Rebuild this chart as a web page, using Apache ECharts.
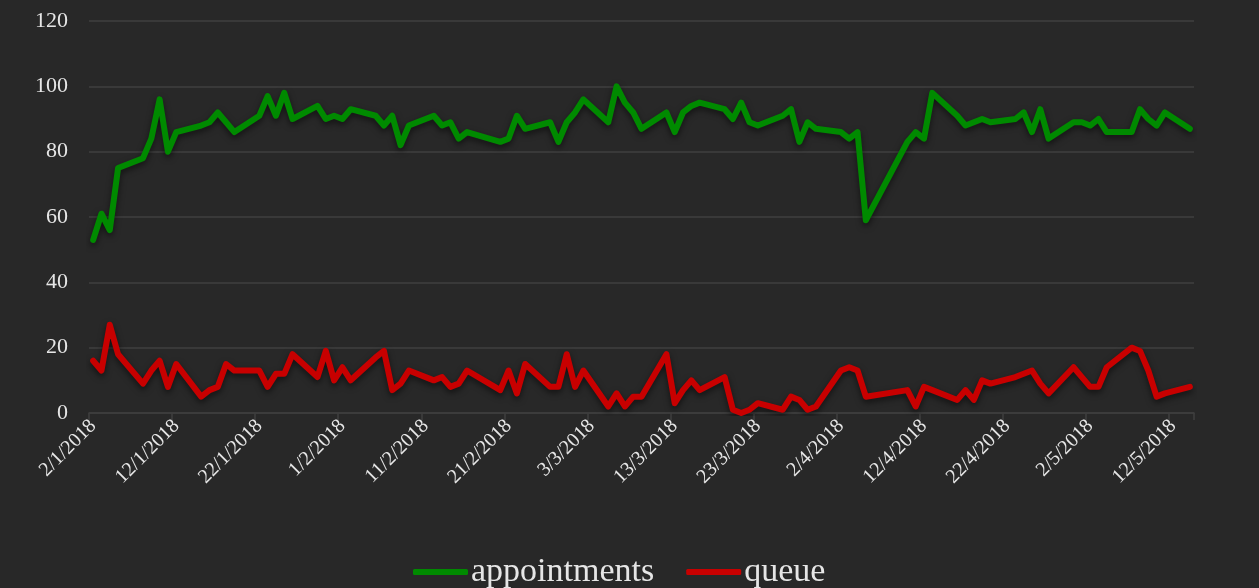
<!DOCTYPE html>
<html>
<head>
<meta charset="utf-8">
<script src="https://cdn.jsdelivr.net/npm/echarts@6/dist/echarts.min.js"></script>
<style>
  html, body { margin: 0; padding: 0; background: #282828; }
  #chart { width: 1259px; height: 588px; }
</style>
</head>
<body>
<div id="chart"></div>
<script>
// Calendar days shown on the axis (2 Jan – 14 May 2018)
const categories = [
  '2/1/2018','3/1/2018','4/1/2018','5/1/2018','6/1/2018','7/1/2018','8/1/2018','9/1/2018','10/1/2018','11/1/2018',
  '12/1/2018','13/1/2018','14/1/2018','15/1/2018','16/1/2018','17/1/2018','18/1/2018','19/1/2018','20/1/2018','21/1/2018',
  '22/1/2018','23/1/2018','24/1/2018','25/1/2018','26/1/2018','27/1/2018','28/1/2018','29/1/2018','30/1/2018','31/1/2018',
  '1/2/2018','2/2/2018','3/2/2018','4/2/2018','5/2/2018','6/2/2018','7/2/2018','8/2/2018','9/2/2018','10/2/2018',
  '11/2/2018','12/2/2018','13/2/2018','14/2/2018','15/2/2018','16/2/2018','17/2/2018','18/2/2018','19/2/2018','20/2/2018',
  '21/2/2018','22/2/2018','23/2/2018','24/2/2018','25/2/2018','26/2/2018','27/2/2018','28/2/2018',
  '1/3/2018','2/3/2018','3/3/2018','4/3/2018','5/3/2018','6/3/2018','7/3/2018','8/3/2018','9/3/2018','10/3/2018',
  '11/3/2018','12/3/2018','13/3/2018','14/3/2018','15/3/2018','16/3/2018','17/3/2018','18/3/2018','19/3/2018','20/3/2018',
  '21/3/2018','22/3/2018','23/3/2018','24/3/2018','25/3/2018','26/3/2018','27/3/2018','28/3/2018','29/3/2018','30/3/2018','31/3/2018',
  '1/4/2018','2/4/2018','3/4/2018','4/4/2018','5/4/2018','6/4/2018','7/4/2018','8/4/2018','9/4/2018','10/4/2018',
  '11/4/2018','12/4/2018','13/4/2018','14/4/2018','15/4/2018','16/4/2018','17/4/2018','18/4/2018','19/4/2018','20/4/2018',
  '21/4/2018','22/4/2018','23/4/2018','24/4/2018','25/4/2018','26/4/2018','27/4/2018','28/4/2018','29/4/2018','30/4/2018',
  '1/5/2018','2/5/2018','3/5/2018','4/5/2018','5/5/2018','6/5/2018','7/5/2018','8/5/2018','9/5/2018','10/5/2018',
  '11/5/2018','12/5/2018','13/5/2018','14/5/2018'
];

// Daily counts, one row per week (Tue..Mon); null = no record (weekends, holidays)
const appointments = [
  53, 61, 56, 75, null, null, 78,
  84, 96, 80, 86, null, null, 88,
  89, 92, 89, 86, null, null, 91,
  97, 91, 98, 90, null, null, 94,
  90, 91, 90, 93, null, null, 91,
  88, 91, 82, 88, null, null, 91,
  88, 89, 84, 86, null, null, null,
  83, 84, 91, 87, null, null, 89,
  83, 89, 92, 96, null, null, 89,
  100, 95, 92, 87, null, null, 92,
  86, 92, 94, 95, null, null, 93,
  90, 95, 89, 88, null, null, 91,
  93, 83, 89, 87, null, null, 86,
  84, 86, 59, null, null, null, null,
  83, 86, 84, 98, null, null, 91,
  88, 89, 90, 89, null, null, 90,
  92, 86, 93, 84, null, null, 89,
  89, 88, 90, 86, null, null, 86,
  93, 90, 88, 92, null, null, 87
];

const queue = [
  16, 13, 27, 18, null, null, 9,
  13, 16, 8, 15, null, null, 5,
  7, 8, 15, 13, null, null, 13,
  8, 12, 12, 18, null, null, 11,
  19, 10, 14, 10, null, null, 17,
  19, 7, 9, 13, null, null, 10,
  11, 8, 9, 13, null, null, null,
  7, 13, 6, 15, null, null, 8,
  8, 18, 8, 13, null, null, 2,
  6, 2, 5, 5, null, null, 18,
  3, 7, 10, 7, null, null, 11,
  1, 0, 1, 3, null, null, 1,
  5, 4, 1, 2, null, null, 13,
  14, 13, 5, null, null, null, null,
  7, 2, 8, 7, null, null, 4,
  7, 4, 10, 9, null, null, 11,
  12, 13, 9, 6, null, null, 14,
  11, 8, 8, 14, null, null, 20,
  19, 13, 5, 6, null, null, 8
];

const yTicks = { min: 0, max: 120, interval: 20 };

const FONT = '"Liberation Serif", "DejaVu Serif", serif';
const TEXT = '#e6e6e6';
const GRID_LINE = '#3f3f3f';

const chart = echarts.init(document.getElementById('chart'), null, { renderer: 'canvas' });

function lineSeries(name, data, color) {
  return {
    name: name,
    type: 'line',
    data: data,
    connectNulls: true,
    symbol: 'none',
    lineStyle: {
      width: 6,
      color: color,
      cap: 'round',
      join: 'round',
      shadowColor: 'rgba(0,0,0,0.55)',
      shadowBlur: 6,
      shadowOffsetY: 3
    },
    itemStyle: { color: color },
    animation: false
  };
}

chart.setOption({
  backgroundColor: 'transparent',
  textStyle: { fontFamily: FONT },
  grid: { left: 89, right: 65, top: 21, bottom: 175, containLabel: false },
  legend: {
    left: 408,
    bottom: -6,
    icon: 'roundRect',
    itemWidth: 55,
    itemHeight: 6,
    itemGap: 32,
    textStyle: { color: TEXT, fontFamily: FONT, fontSize: 34, padding: [0, 0, 0, -2] },
    data: ['appointments', 'queue']
  },
  xAxis: {
    type: 'category',
    data: categories,
    boundaryGap: true,
    axisLine: { show: true, lineStyle: { color: GRID_LINE, width: 1.5 } },
    axisTick: { show: true, interval: 9, length: 7, lineStyle: { color: GRID_LINE, width: 1.5 } },
    axisLabel: {
      interval: 9,
      rotate: 45,
      color: TEXT,
      fontFamily: FONT,
      fontSize: 20,
      margin: 10
    },
    splitLine: { show: false }
  },
  yAxis: {
    type: 'value',
    min: yTicks.min,
    max: yTicks.max,
    interval: yTicks.interval,
    axisLine: { show: false },
    axisTick: { show: false },
    axisLabel: { color: TEXT, fontFamily: FONT, fontSize: 22, margin: 21 },
    splitLine: { lineStyle: { color: GRID_LINE, width: 1.5 } }
  },
  series: [
    lineSeries('appointments', appointments, '#008a00'),
    lineSeries('queue', queue, '#c80000')
  ]
});
</script>
</body>
</html>
